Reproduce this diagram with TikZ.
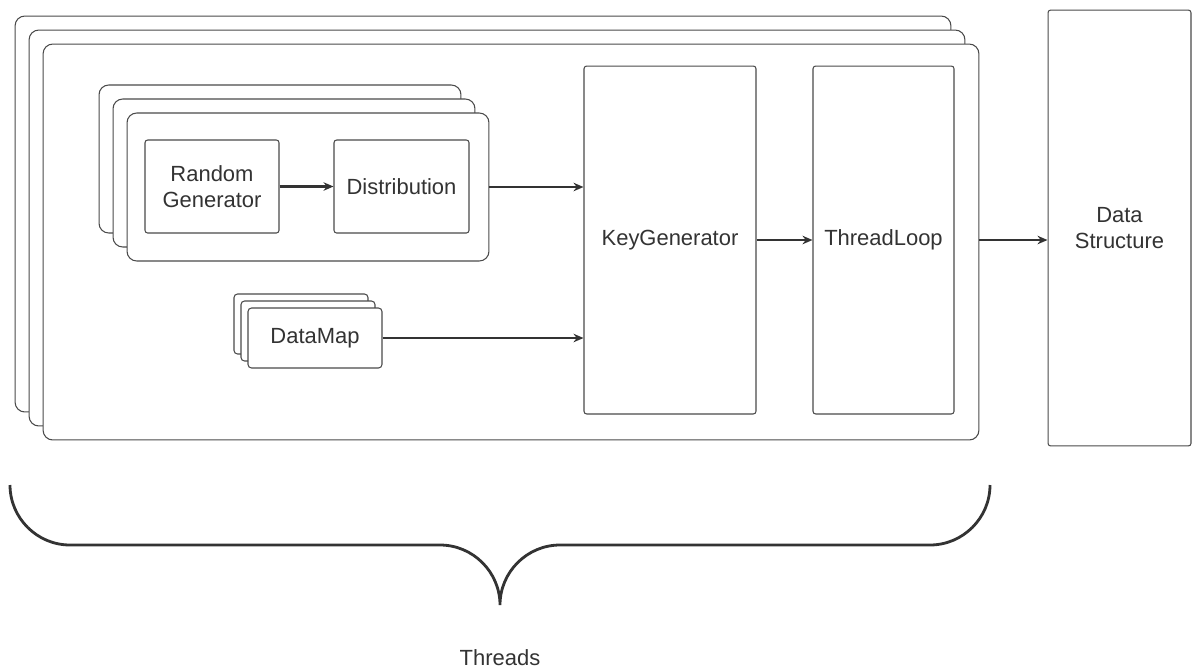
\documentclass[tikz,border=0pt]{standalone}
\usepackage{fontspec}
\setmainfont{Liberation Sans}
\usetikzlibrary{arrows.meta, positioning, calc}
\definecolor{chartink}{HTML}{333333}
\definecolor{chartline}{HTML}{4A4A4A}

\begin{document}
\begin{tikzpicture}[
    x=0.02cm, y=-0.02cm,
    every node/.style={font=\fontsize{12.5}{14.8}\selectfont, text=chartink},
    block/.style={draw=chartline, fill=white, line width=0.6pt, rounded corners=1.5pt, align=center, inner sep=0pt},
    thread/.style={block, rounded corners=5.5pt, minimum width=18.72cm, minimum height=7.92cm},
    rngstack/.style={block, rounded corners=5.5pt, minimum width=7.24cm, minimum height=2.96cm},
    mapstack/.style={block, rounded corners=2pt, minimum width=2.68cm, minimum height=1.20cm},
    flow/.style={-{Stealth[length=2mm, width=1.7mm]}, line width=1.4pt, chartink}
]
    \useasboundingbox (0,0) rectangle (1193,670);

    % one card per thread, stacked
    \node[thread] (thr3) at (483,214) {};
    \node[thread] (thr2) at (497,228) {};
    \node[thread] (thr1) at (511,242) {};

    % random generator / distribution pairs
    \node[rngstack] (rng3) at (280,159) {};
    \node[rngstack] (rng2) at (294,173) {};
    \node[rngstack] (rng1) at (308,187) {};
    \node[block, minimum width=2.68cm, minimum height=1.86cm] (rand) at (212,186.5) {Random\\Generator};
    \node[block, minimum width=2.70cm, minimum height=1.86cm] (dist) at (401.5,186.5) {Distribution};

    % data maps
    \node[mapstack] (dm3) at (301,324) {};
    \node[mapstack] (dm2) at (308,331) {};
    \node[mapstack] (dm1) at (315,338) {DataMap};

    \node[block, minimum width=3.44cm, minimum height=6.96cm] (keygen) at (670,240) {KeyGenerator};
    \node[block, minimum width=2.82cm, minimum height=6.96cm] (loop) at (883.5,240) {ThreadLoop};
    \node[block, minimum width=2.86cm, minimum height=8.72cm] (ds) at (1119.5,228) {Data\\Structure};

    \draw[flow] (rand) -- (dist);
    \draw[flow] (rng1.east) -- (rng1.east -| keygen.west);
    \draw[flow] (dm1.east) -- (dm1.east -| keygen.west);
    \draw[flow] (keygen) -- (loop);
    \draw[flow] (thr1.east |- loop.east) -- (loop.east -| ds.west);

    % brace under the thread cards
    \draw[chartink, line width=1.6pt]
        (10,485) .. controls (10,518) and (37,545) .. (70,545) -- (440,545)
        .. controls (473,545) and (500,572) .. (500,605)
        .. controls (500,572) and (527,545) .. (560,545) -- (930,545)
        .. controls (963,545) and (990,518) .. (990,485);
    \node (threads) at (500,658) {Threads};
\end{tikzpicture}
\end{document}
